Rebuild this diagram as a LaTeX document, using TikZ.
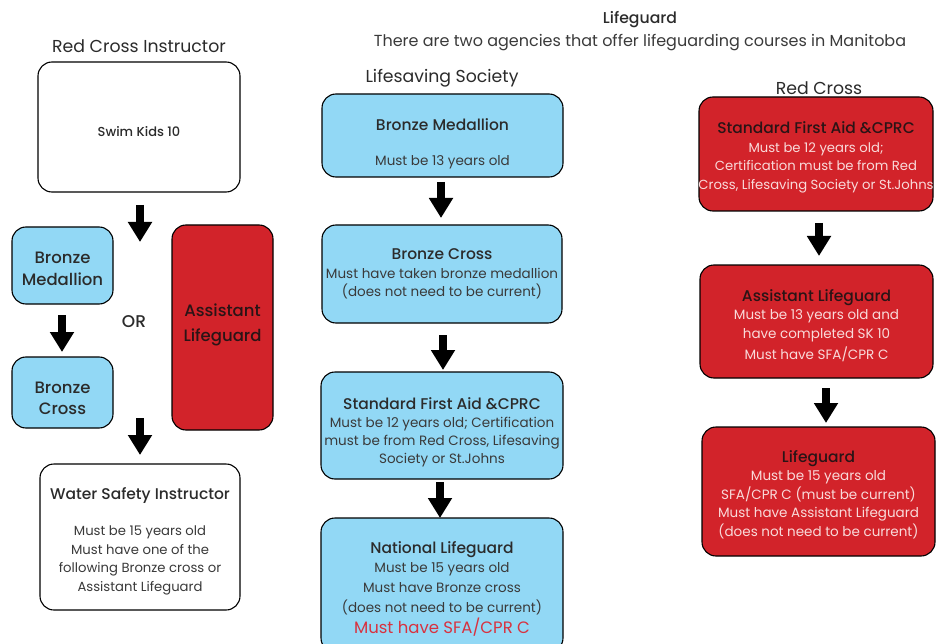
\documentclass[tikz,border=0pt]{standalone}
\usepackage{fontspec}
\setmainfont{Poppins}[BoldFont={Poppins Medium}]
\usetikzlibrary{arrows.meta}
\definecolor{bluebox}{HTML}{92D8F5}
\definecolor{redbox}{HTML}{D2232A}
\definecolor{darktxt}{HTML}{2B2B2B}
\definecolor{bodytxt}{HTML}{3A3A3A}
\definecolor{pinktxt}{HTML}{F9DADA}
\definecolor{redtxt}{HTML}{D8323F}
\definecolor{redttl}{HTML}{2A1416}
\tikzset{
  box/.style={draw=black, line width=1.1pt, rounded corners=14pt, inner sep=0pt},
  whitebox/.style={box, fill=white},
  bluebx/.style={box, fill=bluebox},
  redbx/.style={box, fill=redbox},
  txt/.style={inner sep=0pt, align=center},
  bluetxt/.style={txt, text=bodytxt, body},
  redbody/.style={txt, text=pinktxt, body},
  blockarrow/.style={line width=8pt, -{Triangle[width=23pt,length=20pt]}},
  heading/.style={font=\fontsize{17.3}{20}\selectfont, text=darktxt, inner sep=0pt},
  body/.style={font=\fontsize{13.5}{18.5}\selectfont},
}
\newcommand{\ttlb}[1]{{\fontsize{15.5}{18.5}\selectfont\bfseries\color{darktxt}#1}}
\newcommand{\ttlr}[1]{{\fontsize{15.5}{18.5}\selectfont\bfseries\color{redttl}#1}}
\begin{document}
\begin{tikzpicture}[x=1pt,y=-1pt]
\useasboundingbox (0,0) rectangle (936,644);
% headers
\node[inner sep=0pt, font=\fontsize{15.7}{18}\selectfont\bfseries, text=darktxt] (hdr) at (640,20) {Lifeguard};
\node[inner sep=0pt, font=\fontsize{16}{19}\selectfont, text=bodytxt] (sub) at (640,43) {There are two agencies that offer lifeguarding courses in Manitoba};
\node[heading] (rci) at (139,46) {Red Cross Instructor};
\node[heading] (lss) at (442,78) {Lifesaving Society};
\node[heading] (rc) at (819,88) {Red Cross};
% left column boxes
\node[whitebox, minimum width=202pt, minimum height=130pt] (swim) at (139,127) {};
\node[bluebx, minimum width=101pt, minimum height=77pt] (bmL) at (62.5,265.5) {};
\node[redbx, minimum width=101pt, minimum height=205pt] (alL) at (222.5,327.5) {};
\node[bluebx, minimum width=101pt, minimum height=71pt] (bcL) at (62.5,392.5) {};
\node[whitebox, minimum width=200pt, minimum height=146pt] (wsi) at (140,537) {};
% middle column boxes
\node[bluebx, minimum width=241pt, minimum height=83pt] (bm) at (442.5,135.5) {};
\node[bluebx, minimum width=240pt, minimum height=98pt] (bc) at (442,274) {};
\node[bluebx, minimum width=242pt, minimum height=107pt] (sfa) at (442,425.5) {};
\node[bluebx, minimum width=242pt, minimum height=134pt] (nl) at (442,585) {};
% right column boxes
\node[redbx, minimum width=234pt, minimum height=114pt] (rsfa) at (816,154) {};
\node[redbx, minimum width=233pt, minimum height=113pt] (ral) at (816.5,321.5) {};
\node[redbx, minimum width=233pt, minimum height=129pt] (rlg) at (818.5,491.5) {};
% texts
\node[txt, font=\fontsize{13}{15}\selectfont\bfseries, text=darktxt] (swimT) at ([yshift=-5pt]swim.center) {Swim Kids 10};
\node[txt, font=\fontsize{16.5}{22}\selectfont\bfseries, text=darktxt] (bmLT) at ([yshift=-3pt]bmL.center) {Bronze\\Medallion};
\node[txt, font=\fontsize{16.5}{25}\selectfont\bfseries, text=redttl] (alLT) at ([yshift=3pt]alL.center) {Assistant\\Lifeguard};
\node[inner sep=0pt, font=\fontsize{17}{19}\selectfont\bfseries, text=darktxt] (or) at (134,322) {OR};
\node[txt, font=\fontsize{16.5}{21}\selectfont\bfseries, text=darktxt] (bcLT) at ([yshift=-6pt]bcL.center) {Bronze\\Cross};
\node[bluetxt, font=\fontsize{13.2}{18.5}\selectfont] (wsiT) at ([yshift=-4pt]wsi.center) {\ttlb{Water Safety Instructor}\\[18pt]Must be 15 years old\\Must have one of the\\following Bronze cross or\\Assistant Lifeguard};
\node[bluetxt] (bmT) at ([yshift=-8.5pt]bm.center) {\ttlb{Bronze Medallion}\\[17pt]Must be 13 years old};
\node[bluetxt] (bcT) at (bc.center) {\ttlb{Bronze Cross}\\Must have taken bronze medallion\\(does not need to be current)};
\node[bluetxt, font=\fontsize{13.5}{18}\selectfont] (sfaT) at ([yshift=-6.5pt]sfa.center) {\ttlb{Standard First Aid \&CPRC}\\Must be 12 years old; Certification\\must be from Red Cross, Lifesaving\\Society or St.Johns};
\node[bluetxt] (nlT) at ([yshift=-4pt]nl.center) {\ttlb{National Lifeguard}\\Must be 15 years old\\[1.5pt]Must have Bronze cross\\[1.5pt](does not need to be current)\\[3pt]{\fontsize{16.5}{18}\selectfont\color{redtxt}Must have SFA/CPR C}};
\node[redbody, font=\fontsize{13.2}{18.5}\selectfont] (rsfaT) at ([yshift=-3.5pt]rsfa.center) {\ttlr{Standard First Aid \&CPRC}\\Must be 12 years old;\\Certification must be from Red\\Cross, Lifesaving Society or St.Johns};
\node[redbody] (ralT) at ([yshift=-4pt]ral.center) {\ttlr{Assistant Lifeguard}\\Must be 13 years old and\\have completed SK 10\\[3pt]Must have SFA/CPR C};
\node[redbody] (rlgT) at ([yshift=-3pt]rlg.center) {\ttlr{Lifeguard}\\Must be 15 years old\\SFA/CPR C (must be current)\\Must have Assistant Lifeguard\\(does not need to be current)};
% arrows
\coordinate (a1s) at (140,205); \coordinate (a1e) at (140,242);
\coordinate (a2s) at (62,315);  \coordinate (a2e) at (62,352);
\coordinate (a3s) at (140,418); \coordinate (a3e) at (140,455);
\coordinate (a4s) at (441,182); \coordinate (a4e) at (441,218);
\coordinate (a5s) at (443,335); \coordinate (a5e) at (443,370);
\coordinate (a6s) at (440,482); \coordinate (a6e) at (440,518);
\coordinate (a7s) at (819,223); \coordinate (a7e) at (819,256);
\coordinate (a8s) at (826,388); \coordinate (a8e) at (826,423);
\foreach \i in {1,...,8} {\draw[blockarrow] (a\i s) -- (a\i e);}
\end{tikzpicture}
\end{document}
